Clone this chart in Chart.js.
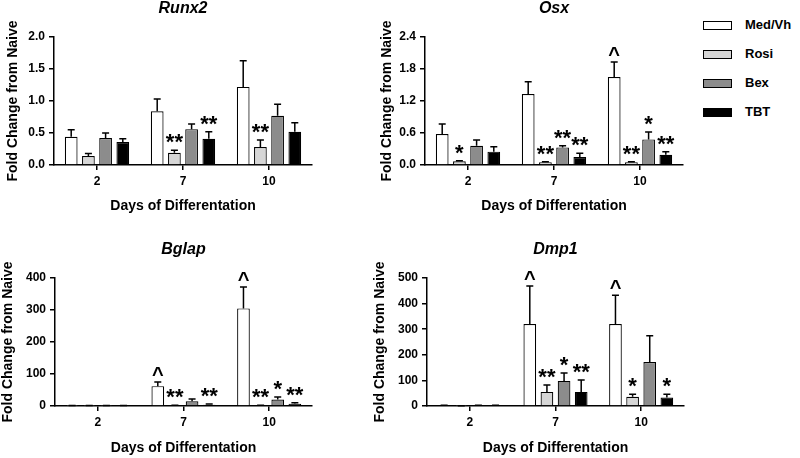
<!DOCTYPE html>
<html>
<head>
<meta charset="utf-8">
<script src="https://cdn.jsdelivr.net/npm/chart.js@4.4.1/dist/chart.umd.min.js"></script>
<style>
    body { margin: 0; background: #fff; width: 800px; height: 458px; overflow: hidden; position: relative; font-family: "Liberation Sans", Arial, sans-serif; }
    canvas { position: absolute; }
    .item { position: absolute; left: 703px; height: 20px; }
    .caja { position: absolute; left: 0; top: 6px; width: 27px; height: 7px; border: 1px solid #000; }
    .texto { position: absolute; left: 42px; top: 2px; font-size: 13px; font-weight: bold; white-space: nowrap; }
</style>
</head>
<body>
<canvas id="runx2" width="330" height="220" style="left:0;top:0"></canvas>
<canvas id="osx" width="330" height="220" style="left:370px;top:0"></canvas>
<canvas id="bglap" width="330" height="230" style="left:0;top:228px"></canvas>
<canvas id="dmp1" width="330" height="230" style="left:370px;top:228px"></canvas>
<div id="leyenda"></div>
<script>
/* Datos generales */
const dias = ['2', '7', '10'];
const grupos = ['Med/Vh', 'Rosi', 'Bex', 'TBT'];
const colores = ['#ffffff', '#d6d6d6', '#8c8c8c', '#000000'];

/* Runx2: una fila por grupo (Med/Vh, Rosi, Bex, TBT) */
const runx2Valores = [[0.44, 0.84, 1.22], [0.14, 0.19, 0.28], [0.42, 0.56, 0.77], [0.36, 0.41, 0.52]];
const runx2Errores = [[0.11, 0.19, 0.41], [0.04, 0.04, 0.11], [0.08, 0.08, 0.18], [0.05, 0.11, 0.14]];
const runx2Marcas = [['', '', ''], ['', '**', '**'], ['', '', ''], ['', '**', '']];

/* Osx */
const osxValores = [[0.58, 1.33, 1.65], [0.07, 0.05, 0.05], [0.36, 0.33, 0.48], [0.25, 0.15, 0.19]];
const osxErrores = [[0.19, 0.23, 0.28], [0.01, 0.01, 0.01], [0.11, 0.03, 0.14], [0.09, 0.07, 0.06]];
const osxMarcas = [['', '', '^'], ['*', '**', '**'], ['', '**', '*'], ['', '**', '**']];

/* Bglap */
const bglapValores = [[1, 62, 305], [1, 2, 2], [1, 15, 20], [1, 4, 7]];
const bglapErrores = [[0.5, 13, 67], [0.3, 0.5, 0.5], [0.3, 7, 8], [0.3, 2, 3]];
const bglapMarcas = [['', '^', '^'], ['', '**', '**'], ['', '', '*'], ['', '**', '**']];

/* Dmp1 */
const dmp1Valores = [[2, 320, 320], [1, 55, 36], [2, 98, 172], [2, 55, 33]];
const dmp1Errores = [[0.5, 149, 113], [0.3, 27, 10], [0.5, 31, 102], [0.5, 47, 13]];
const dmp1Marcas = [['', '^', '^'], ['', '**', '*'], ['', '*', ''], ['', '**', '*']];

const fuente = 'Liberation Sans';

// Dibuja barras de error (solo hacia arriba) y las marcas de significancia
const barrasError = {
    id: 'barrasError',
    afterDatasetsDraw(chart) {
        const ctx = chart.ctx;
        const y = chart.scales.y;
        ctx.save();
        chart.data.datasets.forEach((ds, i) => {
            chart.getDatasetMeta(i).data.forEach((barra, j) => {
                const tope = y.getPixelForValue(ds.data[j] + ds.errores[j]);
                ctx.strokeStyle = '#000';
                ctx.lineWidth = 1.5;
                ctx.beginPath();
                ctx.moveTo(barra.x, barra.y);
                ctx.lineTo(barra.x, tope);
                ctx.moveTo(barra.x - 3.5, tope);
                ctx.lineTo(barra.x + 3.5, tope);
                ctx.stroke();
                const marca = ds.marcas[j];
                if (marca) {
                    ctx.fillStyle = '#000';
                    ctx.textAlign = 'center';
                    ctx.textBaseline = 'alphabetic';
                    ctx.font = marca === '^' ? 'bold 20px ' + fuente : 'bold 22px ' + fuente;
                    ctx.fillText(marca, barra.x, tope - 1);
                }
            });
        });
        ctx.restore();
    }
};

// Título del gen en cursiva
const tituloGen = {
    id: 'tituloGen',
    afterDraw(chart, args, opts) {
        const ctx = chart.ctx;
        const area = chart.chartArea;
        ctx.save();
        ctx.font = 'italic bold 16px ' + fuente;
        ctx.fillStyle = '#000';
        ctx.textAlign = 'center';
        ctx.textBaseline = 'middle';
        ctx.fillText(opts.texto, (area.left + area.right) / 2, area.top - 28);
        ctx.restore();
    }
};

function crearGrafica(id, titulo, valores, errores, marcas, eje, caja) {
    const datasets = grupos.map((g, i) => ({
        label: g,
        data: valores[i],
        errores: errores[i],
        marcas: marcas[i],
        backgroundColor: colores[i],
        borderColor: '#000',
        borderWidth: 1.2,
        barPercentage: 0.74,
        categoryPercentage: 0.8
    }));
    const lienzo = document.getElementById(id);
    return new Chart(lienzo.getContext('2d'), {
        type: 'bar',
        data: { labels: dias, datasets: datasets },
        options: {
            responsive: false,
            animation: false,
            layout: { padding: { top: caja.top, right: lienzo.width - caja.right, bottom: 0, left: 0 } },
            plugins: {
                legend: { display: false },
                tooltip: { enabled: false },
                tituloGen: { texto: titulo }
            },
            scales: {
                x: {
                    afterFit: s => { s.height = lienzo.height - caja.bottom; },
                    grid: { display: true, offset: false, drawOnChartArea: false, drawTicks: true, tickLength: 5, color: '#000', lineWidth: 1.5 },
                    border: { display: true, color: '#000', width: 1.5 },
                    ticks: { color: '#000', padding: 4, font: { family: fuente, size: 12, weight: 'bold' } },
                    title: {
                        display: true, text: 'Days of Differentation', color: '#000',
                        font: { family: fuente, size: 14, weight: 'bold' },
                        padding: { top: 0, bottom: caja.tituloX }
                    }
                },
                y: {
                    min: 0, max: eje.max,
                    afterFit: s => { s.width = caja.left; },
                    grid: { display: true, drawOnChartArea: false, drawTicks: true, tickLength: 5, color: '#000', lineWidth: 1.5 },
                    border: { display: true, color: '#000', width: 1.5 },
                    ticks: {
                        stepSize: eje.paso, color: '#000', padding: 4,
                        font: { family: fuente, size: 12, weight: 'bold' },
                        callback: v => v.toFixed(eje.decimales)
                    },
                    title: {
                        display: true, text: 'Fold Change from Naive', color: '#000',
                        font: { family: fuente, size: 14, weight: 'bold' },
                        padding: { top: caja.tituloY, bottom: 0 }
                    }
                }
            }
        },
        plugins: [barrasError, tituloGen]
    });
}

crearGrafica('runx2', 'Runx2', runx2Valores, runx2Errores, runx2Marcas,
    { max: 2.0, paso: 0.5, decimales: 1 },
    { left: 54, right: 312, top: 37, bottom: 165, tituloX: 5, tituloY: 4.6 });
crearGrafica('osx', 'Osx', osxValores, osxErrores, osxMarcas,
    { max: 2.4, paso: 0.6, decimales: 1 },
    { left: 55, right: 313, top: 37, bottom: 165, tituloX: 5, tituloY: 8.6 });
crearGrafica('bglap', 'Bglap', bglapValores, bglapErrores, bglapMarcas,
    { max: 400, paso: 100, decimales: 0 },
    { left: 55, right: 312, top: 50, bottom: 178, tituloX: 1.6, tituloY: 0 });
crearGrafica('dmp1', 'Dmp1', dmp1Valores, dmp1Errores, dmp1Marcas,
    { max: 500, paso: 100, decimales: 0 },
    { left: 57, right: 314, top: 50, bottom: 178, tituloX: 1.6, tituloY: 1.6 });

// Leyenda a la derecha
const leyenda = document.getElementById('leyenda');
grupos.forEach((g, i) => {
    const item = document.createElement('div');
    item.className = 'item';
    item.style.top = (15 + i * 29) + 'px';
    item.innerHTML = '<div class="caja" style="background:' + colores[i] + '"></div><div class="texto">' + g + '</div>';
    leyenda.appendChild(item);
});
</script>
</body>
</html>
